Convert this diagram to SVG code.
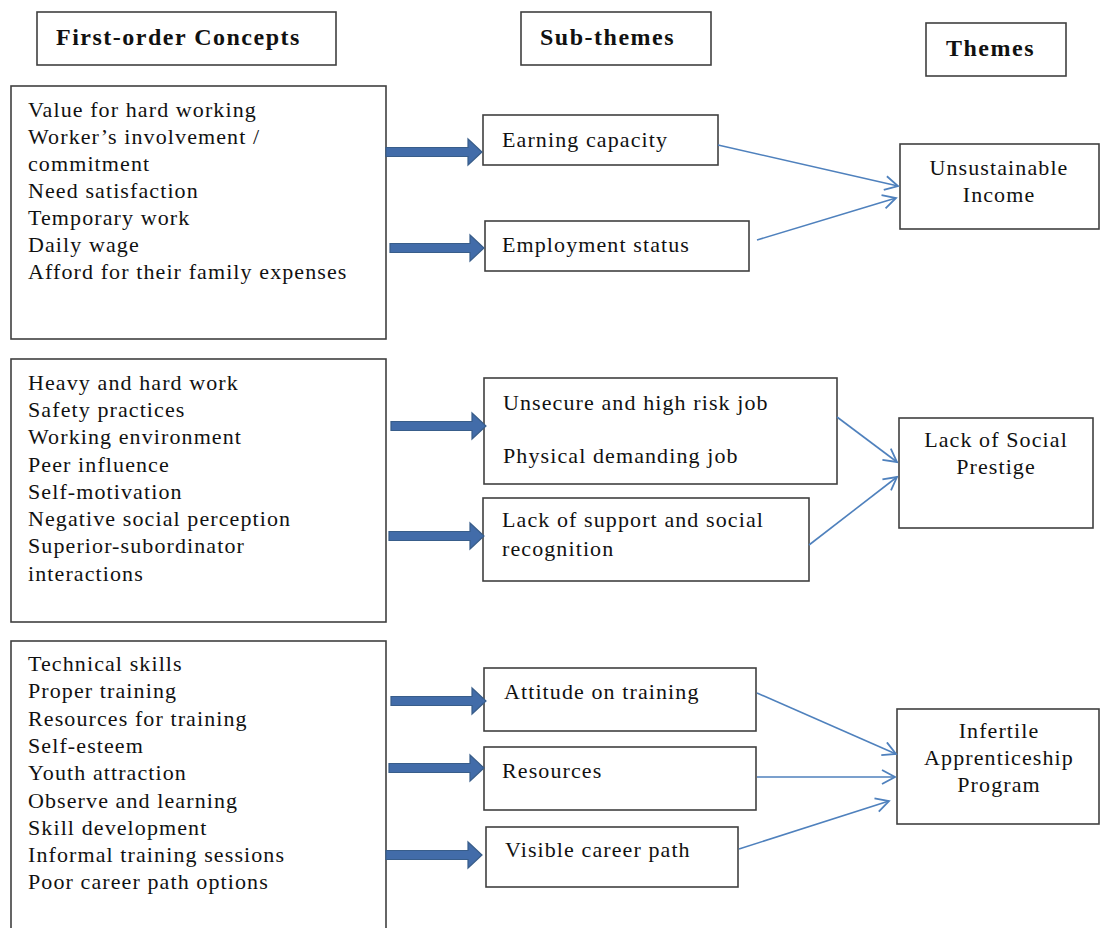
<svg xmlns="http://www.w3.org/2000/svg" width="1100" height="928" viewBox="0 0 1100 928">
<style>
.box{fill:#fff;stroke:#404040;stroke-width:1.6}
.t{font-family:"Liberation Serif","Times New Roman",serif;font-size:22px;letter-spacing:1.1px;fill:#111}
.h{font-family:"Liberation Serif","Times New Roman",serif;font-size:24px;font-weight:bold;letter-spacing:1.5px;fill:#111}
.c{text-anchor:middle}
.thin{fill:none;stroke:#4f81bd;stroke-width:1.6;marker-end:url(#open)}
.blk{fill:#426ca9;stroke:#385d8a;stroke-width:1.2}
</style>
<defs>
<marker id="open" markerUnits="userSpaceOnUse" markerWidth="18" markerHeight="18" refX="14" refY="8" orient="auto">
<path d="M1,1 L14,8 L1,15" fill="none" stroke="#4f81bd" stroke-width="1.8"/>
</marker>
</defs>
<rect width="1100" height="928" fill="#fff"/>

<g id="hdr-first"><rect class="box" x="37" y="12" width="299" height="53"/><text class="h" x="56" y="45">First-order Concepts</text></g>
<g id="hdr-sub"><rect class="box" x="521" y="12" width="190" height="53"/><text class="h" x="540" y="45">Sub-themes</text></g>
<g id="hdr-themes"><rect class="box" x="926" y="23" width="140" height="53"/><text class="h" x="946" y="56">Themes</text></g>

<g id="concepts1"><rect class="box" x="11" y="86" width="375" height="253"/>
<text class="t" x="28" y="117">Value for hard working</text>
<text class="t" x="28" y="144">Worker’s involvement /</text>
<text class="t" x="28" y="171">commitment</text>
<text class="t" x="28" y="198">Need satisfaction</text>
<text class="t" x="28" y="225">Temporary work</text>
<text class="t" x="28" y="252">Daily wage</text>
<text class="t" x="28" y="279">Afford for their family expenses</text>
</g>
<g id="concepts2"><rect class="box" x="11" y="359" width="375" height="263"/>
<text class="t" x="28" y="390">Heavy and hard work</text>
<text class="t" x="28" y="417">Safety practices</text>
<text class="t" x="28" y="444">Working environment</text>
<text class="t" x="28" y="472">Peer influence</text>
<text class="t" x="28" y="499">Self-motivation</text>
<text class="t" x="28" y="526">Negative social perception</text>
<text class="t" x="28" y="553">Superior-subordinator</text>
<text class="t" x="28" y="581">interactions</text>
</g>
<g id="concepts3"><rect class="box" x="11" y="641" width="375" height="300"/>
<text class="t" x="28" y="671">Technical skills</text>
<text class="t" x="28" y="698">Proper training</text>
<text class="t" x="28" y="726">Resources for training</text>
<text class="t" x="28" y="753">Self-esteem</text>
<text class="t" x="28" y="780">Youth attraction</text>
<text class="t" x="28" y="808">Observe and learning</text>
<text class="t" x="28" y="835">Skill development</text>
<text class="t" x="28" y="862">Informal training sessions</text>
<text class="t" x="28" y="889">Poor career path options</text>
</g>

<g id="sub-earning"><rect class="box" x="483" y="115" width="235" height="50"/><text class="t" x="502" y="147">Earning capacity</text></g>
<g id="sub-employment"><rect class="box" x="485" y="221" width="264" height="50"/><text class="t" x="502" y="252">Employment status</text></g>
<g id="sub-unsecure"><rect class="box" x="484" y="378" width="353" height="106"/><text class="t" x="503" y="410">Unsecure and high risk job</text><text class="t" x="503" y="463">Physical demanding job</text></g>
<g id="sub-support"><rect class="box" x="483" y="498" width="326" height="83"/><text class="t" x="502" y="527">Lack of support and social</text><text class="t" x="502" y="556">recognition</text></g>
<g id="sub-attitude"><rect class="box" x="484" y="668" width="272" height="63"/><text class="t" x="504" y="699">Attitude on training</text></g>
<g id="sub-resources"><rect class="box" x="484" y="747" width="272" height="63"/><text class="t" x="502" y="778">Resources</text></g>
<g id="sub-career"><rect class="box" x="486" y="827" width="252" height="60"/><text class="t" x="505" y="857">Visible career path</text></g>

<g id="theme-income"><rect class="box" x="900" y="144" width="199" height="85"/><text class="t c" x="999" y="175">Unsustainable</text><text class="t c" x="999" y="202">Income</text></g>
<g id="theme-prestige"><rect class="box" x="899" y="418" width="194" height="110"/><text class="t c" x="996" y="447">Lack of Social</text><text class="t c" x="996" y="474">Prestige</text></g>
<g id="theme-apprentice"><rect class="box" x="897" y="709" width="202" height="115"/><text class="t c" x="999" y="738">Infertile</text><text class="t c" x="999" y="765">Apprenticeship</text><text class="t c" x="999" y="792">Program</text></g>

<g id="connectors">
<path class="blk" d="M386,147.5 H468 V139 L482,152 L468,165 V156.5 H386 Z"/>
<path class="blk" d="M390,243.5 H470 V235 L484,248 L470,261 V252.5 H390 Z"/>
<path class="blk" d="M391,421.5 H472 V413 L486,426 L472,439 V430.5 H391 Z"/>
<path class="blk" d="M389,531.5 H470 V523 L484,536 L470,549 V540.5 H389 Z"/>
<path class="blk" d="M391,696.5 H472 V688 L486,701 L472,714 V705.5 H391 Z"/>
<path class="blk" d="M389,763.5 H470 V755 L484,768 L470,781 V772.5 H389 Z"/>
<path class="blk" d="M386,850.5 H468 V842 L482,855 L468,868 V859.5 H386 Z"/>
<line class="thin" x1="718" y1="145" x2="898" y2="186"/>
<line class="thin" x1="757" y1="240" x2="896" y2="198"/>
<line class="thin" x1="837" y1="417" x2="897" y2="462"/>
<line class="thin" x1="809" y1="545" x2="897" y2="477"/>
<line class="thin" x1="757" y1="693" x2="896" y2="754"/>
<line class="thin" x1="757" y1="777" x2="895" y2="777"/>
<line class="thin" x1="739" y1="849" x2="889" y2="801"/>
</g>
</svg>
